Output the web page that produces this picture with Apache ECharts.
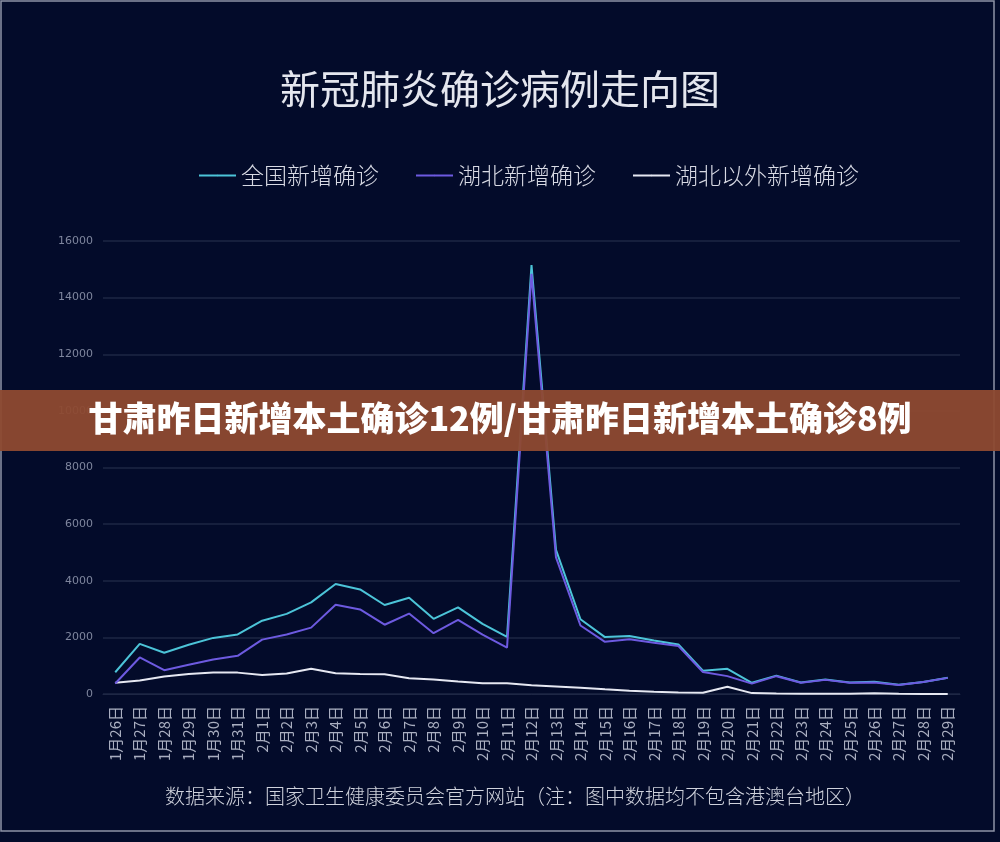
<!DOCTYPE html>
<html><head><meta charset="utf-8">
<script src="https://cdn.jsdelivr.net/npm/echarts@6/dist/echarts.min.js"></script>
<style>html,body{margin:0;padding:0;background:#030b2a;}#c{width:1000px;height:842px;}</style>
</head><body><div id="c"></div>
<script>
const categories = ['1月26日','1月27日','1月28日','1月29日','1月30日','1月31日','2月1日','2月2日','2月3日','2月4日','2月5日','2月6日','2月7日','2月8日','2月9日','2月10日','2月11日','2月12日','2月13日','2月14日','2月15日','2月16日','2月17日','2月18日','2月19日','2月20日','2月21日','2月22日','2月23日','2月24日','2月25日','2月26日','2月27日','2月28日','2月29日'];
const national = [769,1771,1459,1737,1982,2102,2590,2829,3235,3887,3694,3143,3399,2656,3062,2478,2015,15152,5090,2641,2009,2048,1886,1749,820,889,397,648,409,508,406,433,327,427,573];
const hubei = [371,1291,840,1032,1220,1347,1921,2103,2345,3156,2987,2447,2841,2147,2618,2097,1638,14840,4823,2420,1843,1933,1807,1693,775,631,366,630,398,499,401,409,318,423,570];
const outside = [398,480,619,705,762,755,669,726,890,731,707,696,558,509,444,381,377,312,267,221,166,115,79,56,45,258,31,18,11,9,5,24,9,4,3];
const seriesNames = ['全国新增确诊','湖北新增确诊','湖北以外新增确诊'];
const titleText = '新冠肺炎确诊病例走向图';
const footText = '数据来源：国家卫生健康委员会官方网站（注：图中数据均不包含港澳台地区）';
const bannerText = '甘肃昨日新增本土确诊12例/甘肃昨日新增本土确诊8例';

const cjk = '"Noto Sans CJK SC", sans-serif';
const chart = echarts.init(document.getElementById('c'));
chart.setOption({
  backgroundColor: '#030b2a',
  animation: false,
  title: {text: titleText, left: 'center', top: 64, textStyle: {color: '#e4e6ee', fontSize: 40, fontWeight: 400, fontFamily: cjk}},
  legend: {
    top: 159, left: 193, itemWidth: 37, itemHeight: 2, itemGap: 36,
    data: seriesNames,
    textStyle: {color: '#d8dae4', fontSize: 23, fontFamily: cjk, fontWeight: 300}
  },
  grid: {left: 103, right: 40, top: 241, bottom: 148},
  xAxis: {
    type: 'category', data: categories, boundaryGap: true,
    axisLine: {show: true, lineStyle: {color: '#1e2745'}},
    axisTick: {show: false},
    axisLabel: {rotate: 90, interval: 0, color: '#a9aec0', fontSize: 15, fontFamily: cjk, margin: 12}
  },
  yAxis: {
    type: 'value', min: 0, max: 16000, interval: 2000,
    axisLine: {show: false}, axisTick: {show: false},
    splitLine: {lineStyle: {color: '#1e2745', width: 1.5}},
    axisLabel: {color: '#7f869e', fontSize: 11, fontFamily: 'DejaVu Sans', margin: 10, formatter: v => String(v)}
  },
  series: [
    {name: seriesNames[0], type: 'line', data: national, symbol: 'none', lineStyle: {width: 2, color: '#4cc4d8'}, itemStyle: {color: '#4cc4d8'}, z: 3},
    {name: seriesNames[1], type: 'line', data: hubei, symbol: 'none', lineStyle: {width: 2, color: '#6d5ae0'}, itemStyle: {color: '#6d5ae0'}, z: 4},
    {name: seriesNames[2], type: 'line', data: outside, symbol: 'none', lineStyle: {width: 2, color: '#e6e8f2'}, itemStyle: {color: '#e6e8f2'}, z: 2}
  ],
  graphic: [
    {type: 'text', left: 165, top: 786, style: {text: footText, fill: '#cfd2dc', fontSize: 20, fontFamily: cjk, fontWeight: 300}},
    {type: 'rect', shape: {x: 1, y: 1, width: 993, height: 830}, style: {fill: 'none', stroke: '#8e94a6', lineWidth: 1.5}, z: 10},
    {type: 'rect', shape: {x: 0, y: 390, width: 1000, height: 61}, style: {fill: 'rgba(142,74,48,0.95)'}, z: 20},
    {type: 'text', left: 'center', top: 401, style: {text: bannerText, fill: '#ffffff', fontSize: 34, fontWeight: 900, fontFamily: cjk}, z: 21}
  ]
});
</script></body></html>
